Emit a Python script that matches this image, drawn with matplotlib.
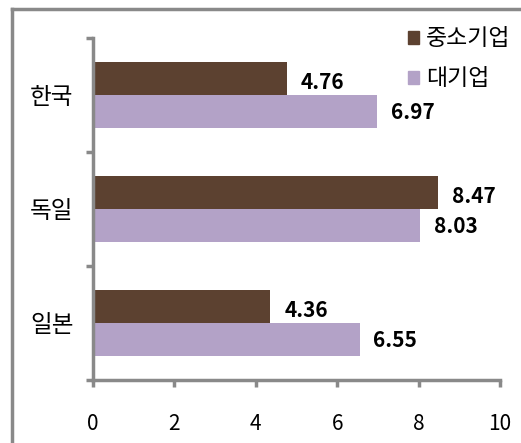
import matplotlib
matplotlib.use("Agg")
import matplotlib.pyplot as plt
from matplotlib.patches import Patch
from matplotlib.lines import Line2D

plt.rcParams['font.family'] = ['Noto Sans CJK KR', 'DejaVu Sans']

categories = ['한국', '독일', '일본']
series_names = ['중소기업', '대기업']
sme_values = [4.76, 8.47, 4.36]
large_values = [6.97, 8.03, 6.55]
x_ticks = [0, 2, 4, 6, 8, 10]

c_sme = '#5c4130'
c_large = '#b3a2c7'
gray = '#898989'

fig = plt.figure(figsize=(5.21, 4.43), dpi=100)
ax = fig.add_axes([93/521, 1-380/443, (500-93)/521, (380-38)/443])

n = len(categories)
centers = [n - 1 - i for i in range(n)]
h = 0.287
ax.barh([c + h/2 for c in centers], sme_values, height=h, color=c_sme, label=series_names[0])
ax.barh([c - h/2 for c in centers], large_values, height=h, color=c_large, label=series_names[1])

for c, v in zip(centers, sme_values):
    ax.annotate(f"{v:.2f}", (v, c + h/2), xytext=(10, -3), textcoords='offset points',
                ha='left', va='center', fontsize=15, fontweight='bold')
for c, v in zip(centers, large_values):
    ax.annotate(f"{v:.2f}", (v, c - h/2), xytext=(10, -1), textcoords='offset points',
                ha='left', va='center', fontsize=15, fontweight='bold')

ax.set_xlim(0, 10)
ax.set_ylim(-0.5, n - 0.5)
ax.set_xticks(x_ticks)
ax.set_xticklabels([str(t) for t in x_ticks], fontsize=15)
ax.set_yticks([i - 0.5 for i in range(n + 1)])
ax.set_yticklabels([])
ax.set_yticks(centers, minor=True)
ax.set_yticklabels(categories, minor=True, fontsize=17)
ax.tick_params(axis='y', which='minor', length=0, pad=14)
ax.tick_params(axis='y', which='major', length=5, width=2.5, color=gray, direction='out')
ax.tick_params(axis='x', length=5, width=2.5, color=gray, direction='out', pad=19)

for s in ['top', 'right']:
    ax.spines[s].set_visible(False)
for s in ['left', 'bottom']:
    ax.spines[s].set_color(gray)
    ax.spines[s].set_linewidth(2.5)

handles = [Patch(color=c_sme), Patch(color=c_large)]
fig.legend(handles, series_names, loc='upper right', bbox_to_anchor=(1.02, 0.985),
           frameon=False, fontsize=16.5, handlelength=0.5, handleheight=0.5,
           handletextpad=0.3, labelspacing=0.75)

fig.add_artist(Line2D([12/521, 12/521], [0, 1-9/443], color=gray, lw=2.5, transform=fig.transFigure))
fig.add_artist(Line2D([12/521, 1], [1-9/443, 1-9/443], color=gray, lw=2.5, transform=fig.transFigure))

fig.savefig('out.png', dpi=100)
